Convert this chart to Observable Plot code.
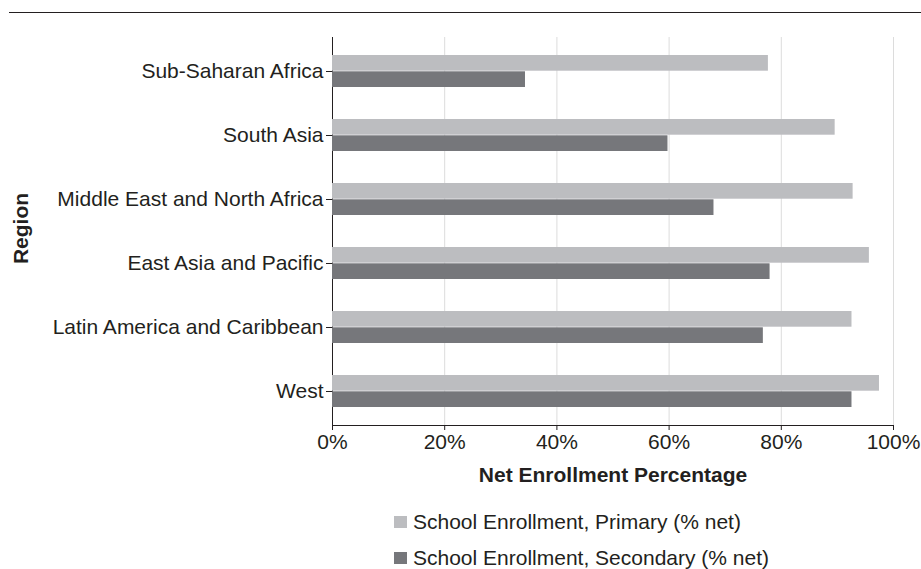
<!DOCTYPE html>
<html>
<head>
<meta charset="utf-8">
<script src="https://cdn.jsdelivr.net/npm/d3@7"></script>
<script src="https://cdn.jsdelivr.net/npm/@observablehq/plot@0.6"></script>
<style>
  html, body { margin: 0; padding: 0; background: #fff; }
  body { width: 921px; height: 569px; position: relative; overflow: hidden;
         font-family: "Liberation Sans", Arial, Helvetica, sans-serif; color: #231f20; }
  #topRule { position: absolute; left: 9px; right: 0; top: 12px; border-top: 1.6px solid #231f20; }
  #chart { position: absolute; left: 0; top: 0; }
  #legend { position: absolute; left: 0; top: 0; font-size: 21px; }
  .item { position: absolute; display: flex; align-items: center; white-space: nowrap; height: 24px; }
  .swatch { width: 13px; height: 12px; margin-right: 6px; }
</style>
</head>
<body>
<div id="topRule"></div>
<div id="chart"></div>
<div id="legend"></div>
<script>
// Regions, in display order from top to bottom
const regions = [
  "Sub-Saharan Africa",
  "South Asia",
  "Middle East and North Africa",
  "East Asia and Pacific",
  "Latin America and Caribbean",
  "West"
];
// Net enrollment rates (%)
const primary   = [77.7, 89.6, 92.8, 95.7, 92.6, 97.5];
const secondary = [34.4, 59.8, 68.0, 78.0, 76.8, 92.6];
const seriesNames = [
  "School Enrollment, Primary (% net)",
  "School Enrollment, Secondary (% net)"
];
const xTicks = [0, 20, 40, 60, 80, 100];
const xTitle = "Net Enrollment Percentage";
const yTitle = "Region";

const rows = [
  ...regions.map((region, i) => ({region, series: seriesNames[0], value: primary[i]})),
  ...regions.map((region, i) => ({region, series: seriesNames[1], value: secondary[i]}))
];

const chart = Plot.plot({
  width: 921,
  height: 500,
  marginTop: 37,
  marginBottom: 75,
  marginLeft: 332,
  marginRight: 28,
  style: {
    fontFamily: "'Liberation Sans', Arial, Helvetica, sans-serif",
    fontSize: "21px",
    color: "#231f20",
    background: "transparent",
    overflow: "visible"
  },
  x: {domain: [0, 100], ticks: xTicks, tickFormat: d => d + "%", tickSize: 5, tickPadding: 4, line: true, label: null},
  y: {domain: regions, padding: 0, tickSize: 6, tickPadding: 3, line: true, label: null},
  color: {domain: seriesNames, range: ["#bcbdc0", "#76777b"]},
  marks: [
    Plot.ruleX(xTicks.filter(d => d > 0), {stroke: "#dcdcdc", strokeWidth: 1}),
    Plot.barX(rows.filter(d => d.series === seriesNames[0]),
      {x: "value", y: "region", fill: "series", insetTop: 16, insetBottom: 32.3}),
    Plot.barX(rows.filter(d => d.series === seriesNames[1]),
      {x: "value", y: "region", fill: "series", insetTop: 32.3, insetBottom: 16}),
    Plot.text([xTitle], {frameAnchor: "bottom", lineAnchor: "middle", textAnchor: "middle",
      dy: 50, fontWeight: "bold", fill: "#231f20"}),
    Plot.text([yTitle], {frameAnchor: "left", lineAnchor: "middle", textAnchor: "middle",
      dx: -311, dy: -3, rotate: -90, fontWeight: "bold", fill: "#231f20"})
  ]
});
document.getElementById("chart").appendChild(chart);

// Legend: one swatch per series, stacked vertically
const color = chart.scale("color");
const legend = document.getElementById("legend");
seriesNames.forEach((name, i) => {
  const item = document.createElement("div");
  item.className = "item";
  item.style.left = "394px";
  item.style.top = (510 + i * 36) + "px";
  const sw = document.createElement("span");
  sw.className = "swatch";
  sw.style.background = color.range[i];
  const label = document.createElement("span");
  label.textContent = name;
  item.appendChild(sw);
  item.appendChild(label);
  legend.appendChild(item);
});
</script>
</body>
</html>
